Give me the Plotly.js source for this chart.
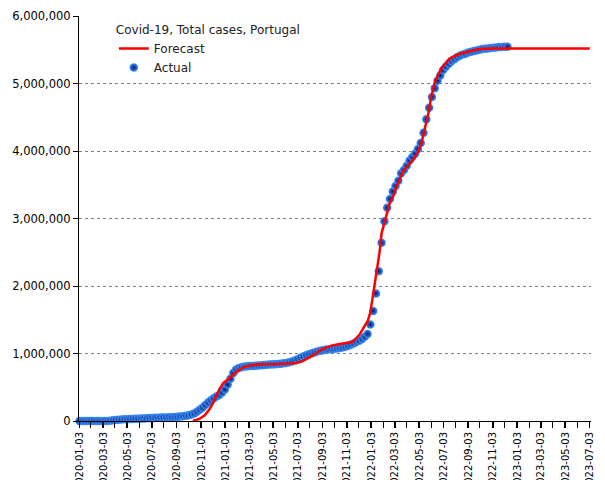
<!DOCTYPE html>
<html>
<head>
<meta charset="utf-8">
<script src="https://cdn.plot.ly/plotly-3.0.1.min.js"></script>
<style>html,body{margin:0;padding:0;background:#fff;}#chart{width:605px;height:480px;}</style>
</head>
<body>
<div id="chart"></div>
<script>
// Actual: weekly totals starting 2020-01-03
const actualStart = '2020-01-03';
const actualStepDays = 7;
const actualValues = [
  0,0,0,0,0,0,0,0,0,112,
  1020,4268,9886,15472,19022,22797,25190,26715,28583,30200,
  31946,33969,35910,38464,40866,43156,45679,47765,49692,51072,
  52351,53548,55211,57074,59051,62126,66895,71156,77284,83928,
  95902,112440,137272,166900,198011,236015,274011,307618,335207,362616,
  386179,420629,466709,539416,624469,711018,761906,784838,797525,805647,
  810459,813152,816055,819210,822500,826000,829000,833000,836000,839000,
  842000,845000,849000,854000,861000,870000,882000,897000,916000,936000,
  956000,973000,988000,1002000,1016000,1029000,1039000,1047000,1054000,1060000,
  1065000,1070000,1075000,1081000,1089000,1099000,1113000,1130000,1150000,1170000,
  1190000,1215000,1250000,1290000,1430000,1630000,1890000,2220000,2640000,2960000,
  3160000,3290000,3400000,3480000,3560000,3670000,3720000,3780000,3860000,3910000,
  3960000,4030000,4120000,4270000,4470000,4640000,4800000,4930000,5040000,5120000,
  5200000,5250000,5290000,5330000,5360000,5390000,5410000,5430000,5440000,5460000,
  5470000,5480000,5490000,5500000,5510000,5515000,5520000,5525000,5530000,5535000,
  5540000,5540000,5545000,5545000
];

// Forecast curve
const forecastDates = [
  '2020-10-13','2020-10-29','2020-11-11','2020-11-23','2020-12-01','2020-12-10','2020-12-18','2020-12-28',
  '2021-01-08','2021-01-25','2021-02-06','2021-02-19','2021-03-08','2021-03-28','2021-05-17','2021-06-11',
  '2021-06-28','2021-07-12','2021-07-23','2021-08-03','2021-08-17','2021-08-28','2021-09-12','2021-09-27',
  '2021-10-15','2021-11-16','2021-12-04','2021-12-16','2021-12-25','2021-12-31','2022-01-06','2022-01-10',
  '2022-01-15','2022-01-18','2022-01-23','2022-01-28','2022-02-02','2022-02-08','2022-02-17','2022-03-01',
  '2022-03-06','2022-03-14','2022-03-22','2022-04-03','2022-04-16','2022-04-28','2022-05-07','2022-05-13',
  '2022-05-20','2022-05-26','2022-06-01','2022-06-07','2022-06-12','2022-06-26','2022-07-17','2022-08-11',
  '2022-09-05','2022-09-30','2022-11-02','2023-07-03'
];
const forecastValues = [
  0,30000,80000,170000,250000,370000,470000,560000,
  620000,700000,760000,800000,825000,840000,845000,850000,
  860000,880000,910000,950000,1000000,1050000,1090000,1120000,
  1140000,1170000,1280000,1390000,1490000,1610000,1840000,1990000,
  2130000,2300000,2500000,2780000,2900000,3020000,3220000,3370000,
  3470000,3570000,3690000,3780000,3860000,3970000,4100000,4250000,
  4420000,4580000,4800000,4950000,5050000,5220000,5370000,5440000,
  5480000,5510000,5520000,5520000
];

const seriesNames = ['Actual', 'Forecast'];
const legendTitle = 'Covid-19, Total cases, Portugal';

const font = 'DejaVu Sans, sans-serif';

const traces = [
  {
    type: 'scatter', mode: 'markers', name: seriesNames[0],
    x0: actualStart, dx: actualStepDays * 86400000,
    y: actualValues,
    cliponaxis: false,
    marker: {size: 8.5, color: '#3f95ff', gradient: {type: 'radial', color: '#00136a'}, line: {width: 0}}
  },
  {
    type: 'scatter', mode: 'lines', name: seriesNames[1],
    x: forecastDates, y: forecastValues,
    cliponaxis: false,
    line: {color: '#ff0000', width: 2.5}
  }
];

const layout = {
  width: 605, height: 480,
  margin: {l: 79, r: 14, t: 16, b: 59},
  paper_bgcolor: '#ffffff', plot_bgcolor: '#ffffff',
  font: {family: font, size: 11, color: '#000'},
  showlegend: true,
  legend: {
    x: 0.068, y: 0.994, xanchor: 'left', yanchor: 'top',
    bgcolor: 'rgba(0,0,0,0)', borderwidth: 0,
    traceorder: 'reversed',
    title: {text: legendTitle, font: {family: font, size: 12, color: '#222'}},
    font: {family: font, size: 12, color: '#222'},
    itemwidth: 30, tracegroupgap: 0
  },
  xaxis: {
    type: 'date',
    range: ['2020-01-02', '2023-07-06'],
    tick0: '2020-01-03', dtick: 'M2',
    tickformat: '%Y-%m-%d', tickangle: -90,
    ticks: 'outside', ticklen: 6, tickcolor: '#000', tickwidth: 1,
    minor: {dtick: 'M1', ticks: 'outside', ticklen: 6, tickcolor: '#000', tickwidth: 1, showgrid: false},
    showline: true, linecolor: '#000', linewidth: 1,
    showgrid: false, zeroline: false,
    tickfont: {family: font, size: 10, color: '#000'},
    automargin: false, fixedrange: true
  },
  yaxis: {
    range: [0, 6000000], dtick: 1000000, tick0: 0,
    tickformat: ',d',
    ticks: 'outside', ticklen: 5, tickcolor: '#000', tickwidth: 1,
    showline: true, linecolor: '#000', linewidth: 1,
    showgrid: true, gridcolor: '#808080', griddash: 'dot', gridwidth: 1,
    zeroline: false,
    tickfont: {family: font, size: 11.5, color: '#000'},
    automargin: false, fixedrange: true
  }
};

Plotly.newPlot('chart', traces, layout, {staticPlot: true, displayModeBar: false});
</script>
</body>
</html>
